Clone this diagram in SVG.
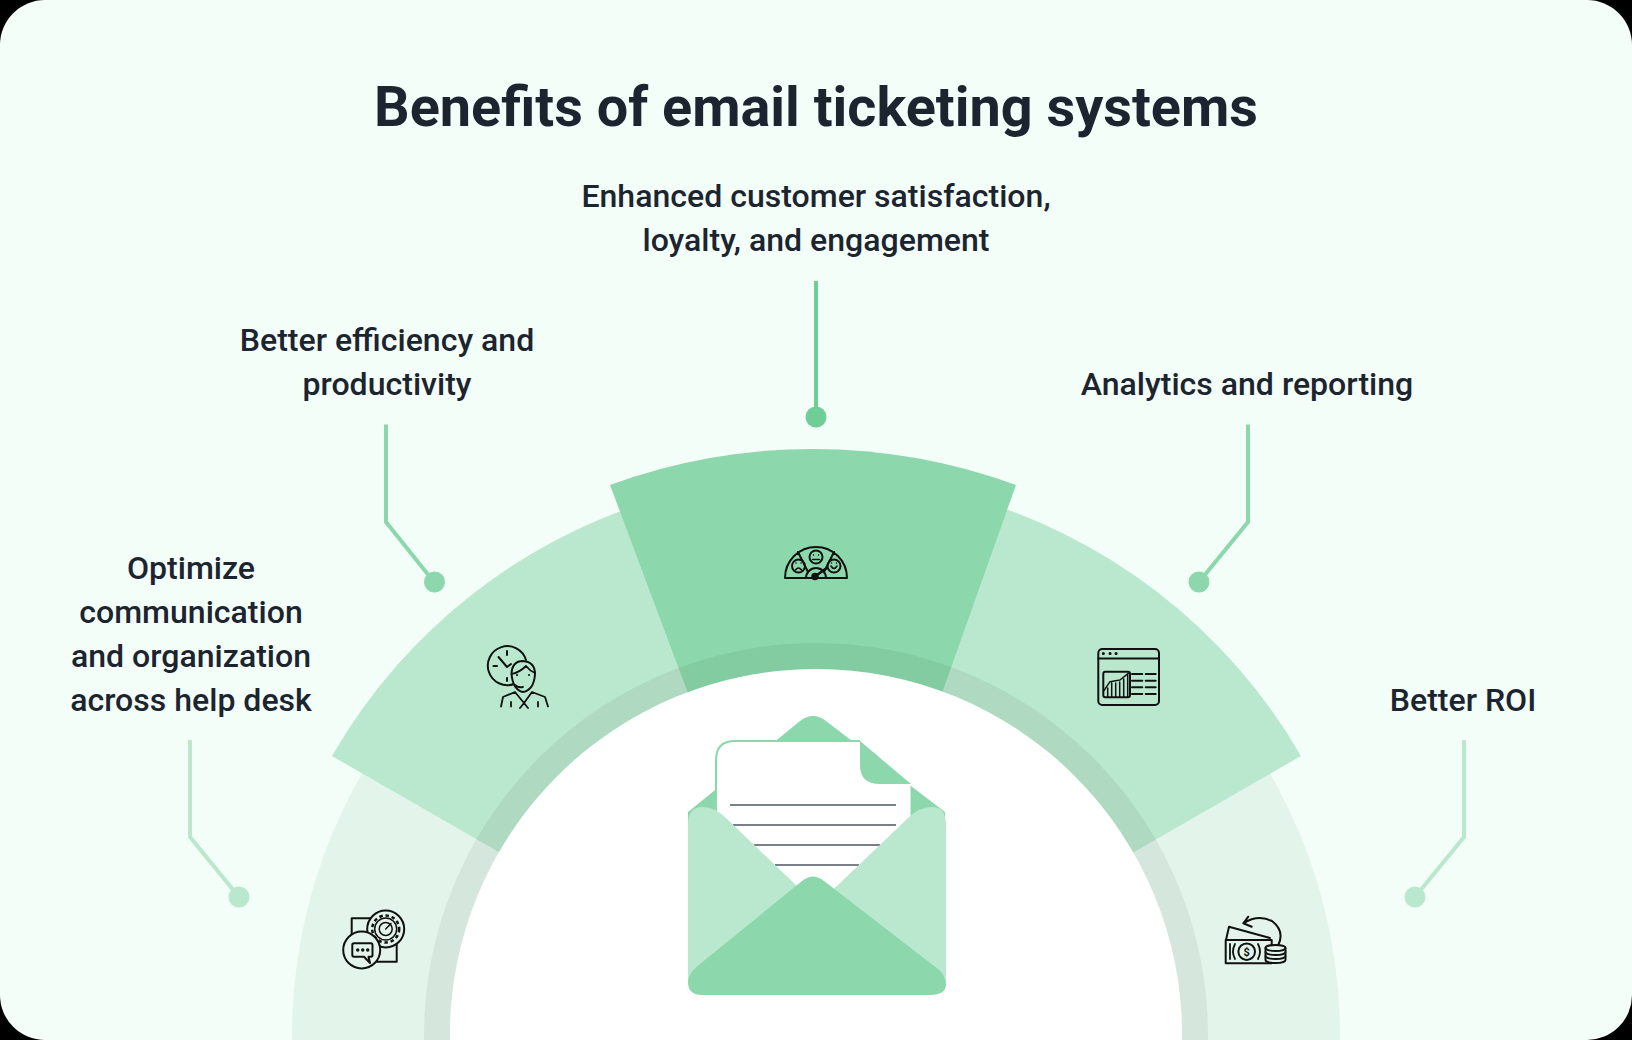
<svg xmlns="http://www.w3.org/2000/svg" width="1632" height="1040" viewBox="0 0 1632 1040">
<style>
text{font-family:Roboto,"Liberation Sans",sans-serif;fill:#1c2430;text-anchor:middle}
.t{font-size:32.050px;font-weight:500}
.i{fill:none;stroke:#111;stroke-width:2;stroke-linecap:round;stroke-linejoin:round}
.c{fill:none;stroke-width:4}
.l1{fill:#e3f5ea}.l2{fill:#bae8ce}.l3{fill:#8cd8ac}
</style>
<rect width="1632" height="1040" fill="#000"/>
<rect width="1632" height="1040" rx="45" fill="#f4fef9"/>
<text x="816" y="125.500" style="font-size:55.800px;font-weight:700">Benefits of email ticketing systems</text>
<g id="sector-roi"><circle class="l1" cx="816" cy="1035" r="524"/></g>
<g id="sector-efficiency"><path class="l2" d="M332 756A559 559 0 0 1 671 495L816 1035Z"/></g>
<g id="sector-analytics"><path class="l2" d="M1301 756A560 560 0 0 0 961 495L816 1035Z"/></g>
<g id="sector-satisfaction"><path class="l3" d="M610 485A589 589 0 0 1 1016 485L904 800H728Z"/></g>
<circle cx="816" cy="1035" r="379" fill="none" stroke="#000" stroke-opacity=".06" stroke-width="26"/>
<circle cx="816" cy="1035" r="366" fill="#fff"/>
<g id="connectors">
<path class="c" stroke="#bae8ce" d="M190 740V837L239 897"/>
<path class="c" stroke="#8cd8ac" d="M386 424.500V522L434 582"/>
<path class="c" stroke="#6fce98" d="M816 281V417"/>
<path class="c" stroke="#8cd8ac" d="M1248 424.500V522L1199 582"/>
<path class="c" stroke="#bae8ce" d="M1464 740V837L1415 897"/>
<circle cx="239" cy="897" r="10.500" fill="#bae8ce"/>
<circle cx="434.500" cy="582" r="10.500" fill="#8cd8ac"/>
<circle cx="816" cy="417" r="10.500" fill="#6fce98"/>
<circle cx="1199" cy="582" r="10.500" fill="#8cd8ac"/>
<circle cx="1415" cy="897" r="10.500" fill="#bae8ce"/>
</g>
<g id="node-satisfaction"><text class="t" x="816" y="207">Enhanced customer satisfaction,</text><text class="t" x="816" y="251">loyalty, and engagement</text></g>
<g id="node-efficiency"><text class="t" x="387" y="351">Better efficiency and</text><text class="t" x="387" y="395">productivity</text></g>
<g id="node-analytics"><text class="t" x="1247" y="395">Analytics and reporting</text></g>
<g id="node-communication"><text class="t" x="191" y="579">Optimize</text><text class="t" x="191" y="623">communication</text><text class="t" x="191" y="667">and organization</text><text class="t" x="191" y="711">across help desk</text></g>
<g id="node-roi"><text class="t" x="1463" y="711">Better ROI</text></g>
<g id="envelope">
<path class="l3" d="M688 812L800 721Q813 711 826 721L945 812V900H688Z"/>
<path d="M716 760Q716 741 735 741H860L910.500 784V900H716Z" fill="#fff"/>
<path d="M716 820V760Q716 741 735 741H860" fill="none" stroke="#8cd8ac" stroke-width="2"/>
<path class="l3" d="M860 741V765Q860 784 880 784H911Z"/>
<g stroke="#7a7f8c" stroke-width="2"><path d="M730 805H896M733 825H896M754 845H880M775 865H859"/></g>
<path class="l2" d="M688 825Q688 807 702 807Q715 807 726 818L820 908V980Q820 995 805 995H708Q688 995 688 975Z"/>
<path class="l2" d="M946 825Q946 807 932 807Q919 807 908 818L814 908V980Q814 995 829 995H926Q946 995 946 975Z"/>
<path class="l3" d="M700 964L802 881Q813 872 824 881L938 969Q946 976 946 984Q946 995 930 995H702Q688 995 688 982Q688 973 700 964Z"/>
</g>
<g id="icon-gauge" class="i">
<path d="M785 578A31 31 0 0 1 847 578ZM798 552L808 572M834 552L824 572M806 578A10 10 0 0 1 826 578"/>
<circle cx="798.500" cy="566" r="6.500"/><circle cx="816" cy="557" r="6.500"/><circle cx="834" cy="566" r="6.500"/>
<path d="M795.500 570Q798.500 566 801.500 570M796 563h.1M801 563h.1M812.500 559.500H819.500M813.500 555h.1M818.500 555h.1M831 566Q834 571 837 566M831.500 563h.1M836.500 563h.1" stroke-width="1.500"/>
<circle cx="815" cy="576.500" r="2.800" fill="#111"/><path d="M815 576.500L826 568.500" stroke-width="2.600"/></g>
<g id="icon-agent" class="i">
<path d="M514 684A19.500 19.500 0 1 1 526 660"/><path d="M507 651V655M493.500 666H497M507 678V681M498.500 657L507 667L511 664"/>
<path fill="#bae8ce" d="M511.500 674Q512 661 523 661Q535 662 535 674Q534 690 523 692Q513 690 511.500 674Z"/>
<path d="M512 674Q520 672 526 666Q530 671 535 673M515 685Q518 688 523 687M501 706.500L503 697L515 692L524 703L532 692L545 697L548 706.500M524 703L520 708M524 703L528 708M511 706.500V702M538 706.500V702" stroke-width="1.800"/>
<path d="M517 675h.1M529 675h.1" stroke-width="2"/>
</g>
<g id="icon-analytics" class="i">
<rect x="1098.300" y="649" width="60.700" height="56" rx="4"/><path d="M1098.300 658.500H1159"/>
<path d="M1103.300 653.500h.1M1110 653.500h.1M1116 653.500h.1" stroke-width="3"/>
<rect x="1103.300" y="671.700" width="26.700" height="25.600" rx="2"/>
<path d="M1103.300 691.700L1110 681.700L1120 680L1128.300 673.300M1107.700 697V688M1111.700 697V683M1115.700 697V683M1119.700 697V682M1123.700 697V679M1127.700 697V675" stroke-width="1.500"/>
<path d="M1132 674H1142.300M1145.700 674H1155.700M1132 680.700H1142.300M1145.700 680.700H1155.700M1132 687.300H1142.300M1145.700 687.300H1155.700M1132 694H1142.300M1145.700 694H1155.700"/>
</g>
<g id="icon-communication" class="i">
<rect x="351.700" y="918.300" width="45" height="43.400"/>
<circle cx="385.700" cy="929" r="18.500" fill="#e3f5ea"/>
<circle cx="385.700" cy="929" r="13.500" stroke-dasharray="3.500 2.800" stroke-linecap="butt" stroke-width="2.500"/><circle cx="385.700" cy="929" r="11" stroke-width="1.500"/><circle cx="385.700" cy="929" r="6.500" stroke-width="1.500"/><path d="M385.700 929L391 923.500" stroke-width="1.500"/>
<circle cx="361.700" cy="950" r="18.500" fill="#e3f5ea"/><path d="M354 943.300H371Q372.500 943.300 372.500 945V955Q372.500 956.700 371 956.700H368.500L370 963L364 956.700H354Q352.300 956.700 352.300 955V945Q352.300 943.300 354 943.300Z"/><path d="M357.700 950h.1M362.700 950h.1M367.700 950h.1" stroke-width="3.400"/>
</g>
<g id="icon-roi" class="i">
<path d="M1226 940L1229 926.700L1270 938"/><rect x="1225.700" y="940" width="46" height="23.300"/><circle cx="1246.700" cy="951.700" r="8.300"/>
<path d="M1235 944Q1231 951.700 1235 959M1258 944Q1262 951.700 1258 959M1230 944V959" stroke-width="1.800"/>
<text x="1246.700" y="955.500" style="font-size:11px;font-weight:700;fill:#111;stroke:none">$</text>
<path d="M1248.300 916.700L1243.300 923.300L1251.700 926.700M1243.300 923.300Q1258 914 1272 921Q1285 931 1278.300 945"/>
<path fill="#e3f5ea" d="M1265.500 948A10 3 0 0 1 1285.500 948V960A10 3 0 0 1 1265.500 960Z"/><path d="M1265.500 948A10 3 0 0 0 1285.500 948M1265.500 952A10 3 0 0 0 1285.500 952M1265.500 956A10 3 0 0 0 1285.500 956" stroke-width="1.800"/>
</g>
</svg>
